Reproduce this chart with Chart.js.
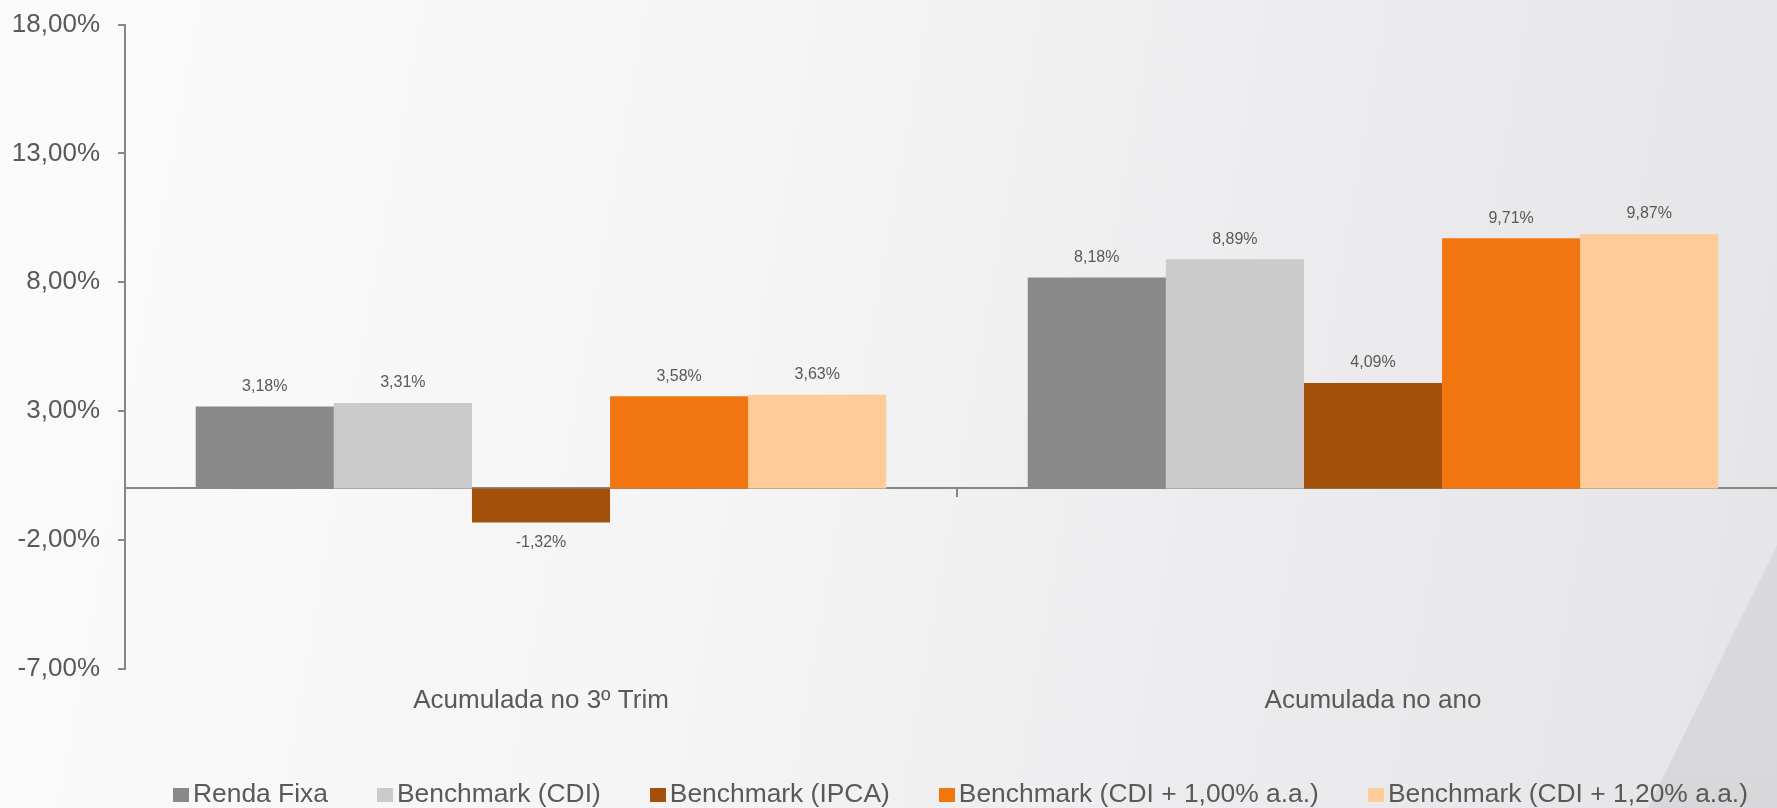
<!DOCTYPE html>
<html>
<head>
<meta charset="utf-8">
<script src="https://cdn.jsdelivr.net/npm/chart.js@4.4.1/dist/chart.umd.min.js"></script>
<style>
  html, body { margin: 0; padding: 0; width: 1777px; height: 808px; overflow: hidden; }
  body {
    position: relative;
    font-family: "Liberation Sans", Arial, sans-serif;
    background: linear-gradient(100deg, #fbfbfc 0%, #f5f5f6 40%, #ececee 70%, #e5e5e7 100%);
  }
  #corner {
    position: absolute; left: 0; top: 0; width: 1777px; height: 808px;
    background: linear-gradient(180deg, #dedee0, #d8d8da);
    clip-path: polygon(1777px 545px, 1777px 808px, 1648px 808px);
  }
  #wrap { position: absolute; left: 0; top: 0; width: 1920px; height: 808px; }
  #legend {
    position: absolute; left: 173px; top: 780px;
    white-space: nowrap; font-size: 26.4px; line-height: 26px; color: #595959;
  }
  #legend .item { display: inline-block; margin-right: 49px; }
  #legend .item:last-child { margin-right: 0; }
  #legend .box { display: inline-block; width: 16px; height: 14px; margin-right: 4px; vertical-align: baseline; }
</style>
</head>
<body>
<div id="corner"></div>
<div id="wrap"><canvas id="chart" width="1920" height="808"></canvas></div>
<div id="legend"></div>
<script>
// Categorias e séries (valores em %)
const categories = ["Acumulada no 3º Trim", "Acumulada no ano"];
const rendaFixa = [3.18, 8.18];
const cdi = [3.31, 8.89];
const ipca = [-1.32, 4.09];
const cdiMais100 = [3.58, 9.71];
const cdiMais120 = [3.63, 9.87];
const yTicks = { min: -7, max: 18, step: 5 };

const seriesConfigs = [
    { label: "Renda Fixa", data: rendaFixa, color: "#898989" },
    { label: "Benchmark (CDI)", data: cdi, color: "#cbcbcb" },
    { label: "Benchmark (IPCA)", data: ipca, color: "#a3500b" },
    { label: "Benchmark (CDI + 1,00% a.a.)", data: cdiMais100, color: "#f27610" },
    { label: "Benchmark (CDI + 1,20% a.a.)", data: cdiMais120, color: "#fecb99" }
];

const fontFamily = '"Liberation Sans", Arial, sans-serif';
const textColor = "#595959";
const axisColor = "#878787";

function fmt(v) {
    return v.toFixed(2).replace(".", ",") + "%";
}

// Rótulos de valor acima/abaixo das barras
const valueLabels = {
    id: "valueLabels",
    afterDatasetsDraw(chart) {
        const ctx = chart.ctx;
        ctx.save();
        ctx.font = "16px " + fontFamily;
        ctx.fillStyle = textColor;
        ctx.textAlign = "center";
        chart.data.datasets.forEach((ds, i) => {
            chart.getDatasetMeta(i).data.forEach((bar, j) => {
                const v = ds.data[j];
                if (v >= 0) {
                    ctx.textBaseline = "bottom";
                    ctx.fillText(fmt(v), bar.x, bar.y - 12);
                } else {
                    ctx.textBaseline = "top";
                    ctx.fillText(fmt(v), bar.x, bar.y + 12);
                }
            });
        });
        ctx.restore();
    }
};

Chart.defaults.font.family = fontFamily;

const chart = new Chart(document.getElementById("chart").getContext("2d"), {
    type: "bar",
    data: {
        labels: categories,
        datasets: seriesConfigs.map(s => ({
            label: s.label,
            data: s.data,
            backgroundColor: s.color,
            borderWidth: 0,
            categoryPercentage: 0.83,
            barPercentage: 1.0
        }))
    },
    options: {
        responsive: false,
        animation: false,
        layout: { padding: { top: 24.5, left: 0, right: 131, bottom: 76 } },
        plugins: {
            legend: { display: false },
            tooltip: { enabled: false }
        },
        scales: {
            y: {
                min: yTicks.min,
                max: yTicks.max,
                ticks: {
                    stepSize: yTicks.step,
                    padding: 18,
                    color: textColor,
                    font: { size: 26, lineHeight: 0.3 },
                    callback: v => fmt(v)
                },
                grid: { drawOnChartArea: false, drawTicks: true, tickLength: 7, color: axisColor, lineWidth: 2 },
                border: { display: true, color: axisColor, width: 2 },
                afterFit(scale) { scale.width = 125; }
            },
            x: {
                position: { y: 0 },
                offset: true,
                ticks: { display: false },
                grid: { offset: true, drawOnChartArea: false, drawTicks: true, tickLength: 8, color: axisColor, lineWidth: 2 },
                border: { display: true, color: axisColor, width: 2 }
            },
            x2: {
                type: "category",
                labels: categories,
                position: "bottom",
                offset: true,
                grid: { display: false, drawTicks: false },
                border: { display: false },
                ticks: { padding: 16, color: textColor, font: { size: 26 }, maxRotation: 0, autoSkip: false }
            }
        }
    },
    plugins: [valueLabels]
});

// Legenda em HTML
const legend = document.getElementById("legend");
chart.data.datasets.forEach(ds => {
    const item = document.createElement("span");
    item.className = "item";
    const box = document.createElement("span");
    box.className = "box";
    box.style.background = ds.backgroundColor;
    item.appendChild(box);
    item.appendChild(document.createTextNode(ds.label));
    legend.appendChild(item);
});
</script>
</body>
</html>
